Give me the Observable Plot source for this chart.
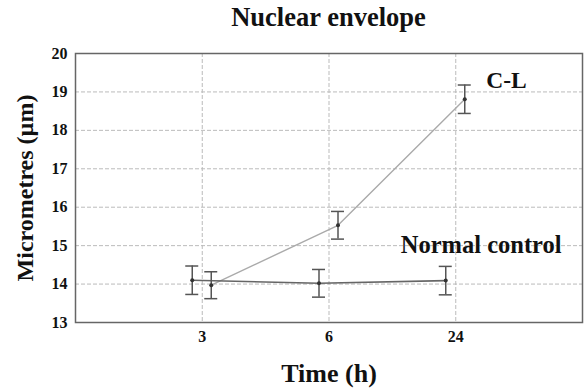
<!DOCTYPE html>
<html>
<head>
<meta charset="utf-8">
<script src="https://cdn.jsdelivr.net/npm/d3@7"></script>
<script src="https://cdn.jsdelivr.net/npm/@observablehq/plot@0.6"></script>
<style>
  html, body { margin: 0; padding: 0; background: #fff; }
  #wrap { width: 585px; height: 389px; overflow: hidden; }
  #title {
    height: 40px; line-height: 34px; box-sizing: border-box;
    padding-left: 75px; padding-right: 3px; text-align: center;
    font-family: "Liberation Serif", "Tinos", "Times New Roman", "DejaVu Serif", serif;
    font-weight: bold; font-size: 26.5px; color: #111;
  }
  svg { display: block; }
  svg text { font-family: "Liberation Serif", "Tinos", "Times New Roman", "DejaVu Serif", serif; }
</style>
</head>
<body>
<div id="wrap">
  <div id="title">Nuclear envelope</div>
  <div id="chart"></div>
</div>
<script>
// ---- data ----
const timeLabels = ["3", "6", "24"];
const seriesNames = ["Normal control", "C-L"];
const normalMean = [14.10, 14.02, 14.09];
const normalErr  = [0.37, 0.36, 0.37];
const clMean     = [13.97, 15.53, 18.81];
const clErr      = [0.35, 0.36, 0.37];
const yTicks = [13, 14, 15, 16, 17, 18, 19, 20];

// ---- build tables ----
const normal = timeLabels.map((t, i) => ({i: i + 1, m: normalMean[i], e: normalErr[i]}));
const cl = timeLabels.map((t, i) => ({i: i + 1, m: clMean[i], e: clErr[i]}));

const W = 585, H = 349, mL = 75, mR = 3, mT = 13, mB = 67;
const pxPerUnit = (W - mL - mR) / 4;
const capHalf = 6.5 / pxPerUnit;
const font = '"Liberation Serif", "Tinos", "Times New Roman", "DejaVu Serif", serif';
const barColor = "#555";

function errorMarks(data, dx) {
  return [
    Plot.ruleX(data, {x: "i", y1: d => d.m - d.e, y2: d => d.m + d.e, dx, stroke: barColor, strokeWidth: 1.5}),
    Plot.ruleY(data, {y: d => d.m + d.e, x1: d => d.i - capHalf, x2: d => d.i + capHalf, dx, stroke: barColor, strokeWidth: 1.5}),
    Plot.ruleY(data, {y: d => d.m - d.e, x1: d => d.i - capHalf, x2: d => d.i + capHalf, dx, stroke: barColor, strokeWidth: 1.5}),
    Plot.dot(data, {x: "i", y: "m", dx, r: 2, fill: "#333", stroke: "none"})
  ];
}

const chart = Plot.plot({
  width: W, height: H,
  marginLeft: mL, marginRight: mR, marginTop: mT, marginBottom: mB,
  style: {fontFamily: font, fontWeight: "bold", color: "#111", background: "#fff"},
  x: {type: "linear", domain: [0, 4]},
  y: {domain: [13, 20]},
  marks: [
    Plot.gridX([1, 2, 3], {stroke: "#bbb", strokeOpacity: 1, strokeDasharray: "4,2"}),
    Plot.gridY(yTicks.slice(1, -1), {stroke: "#bbb", strokeOpacity: 1, strokeDasharray: "4,2"}),
    Plot.axisX([1, 2, 3], {tickSize: 0, tickPadding: 8, tickFormat: d => timeLabels[d - 1], fontSize: 16, fontWeight: "bold", label: null}),
    Plot.axisY(yTicks, {tickSize: 0, tickPadding: 8, fontSize: 16, fontWeight: "bold", label: null}),
    Plot.line(cl, {x: "i", y: "m", dx: 9, stroke: "#aaa", strokeWidth: 1.4}),
    Plot.line(normal, {x: "i", y: "m", dx: -10, stroke: "#666", strokeWidth: 1.6}),
    ...errorMarks(normal, -10),
    ...errorMarks(cl, 9),
    Plot.frame({stroke: "#666", strokeWidth: 1.5}),
    Plot.text([seriesNames[1]], {x: 3.24, y: 19.3, text: d => d, textAnchor: "start", fontSize: 23.5, fontWeight: "bold", fill: "#111"}),
    Plot.text([seriesNames[0]], {x: 2.566, y: 15.0, text: d => d, textAnchor: "start", fontSize: 24.5, fontWeight: "bold", fill: "#111"}),
    Plot.text(["Time (h)"], {frameAnchor: "bottom", dy: 51, lineAnchor: "middle", text: d => d, fontSize: 26, fontWeight: "bold", fill: "#111"}),
    Plot.text(["Micrometres (\u00b5m)"], {frameAnchor: "left", dx: -50, rotate: -90, textAnchor: "middle", lineAnchor: "middle", text: d => d, fontSize: 24, fontWeight: "bold", fill: "#111"})
  ]
});
document.getElementById("chart").appendChild(chart);
</script>
</body>
</html>
